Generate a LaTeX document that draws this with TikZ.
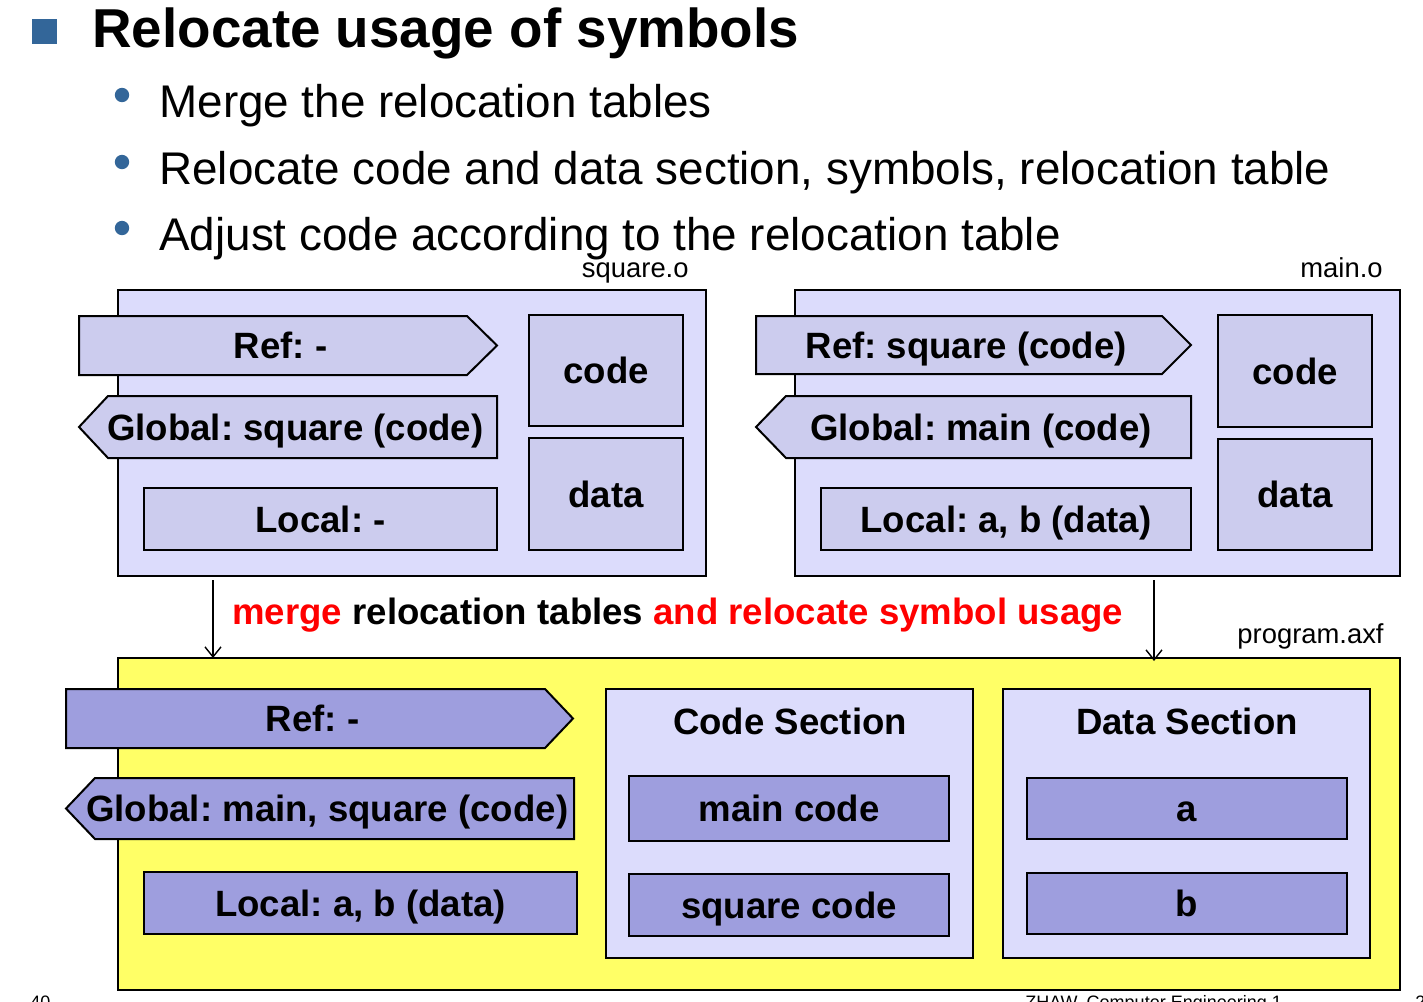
\documentclass[tikz,border=0pt]{standalone}
\usepackage{fontspec}
\setmainfont{Liberation Sans}
\usetikzlibrary{arrows.meta}
\definecolor{lav}{RGB}{220,220,252}
\definecolor{mid}{RGB}{204,204,238}
\definecolor{dark}{RGB}{158,158,222}
\definecolor{yel}{RGB}{255,255,102}
\definecolor{blu}{RGB}{51,102,153}
\definecolor{redtxt}{RGB}{255,0,0}
\frenchspacing
\newcommand\myfs[1]{\fontsize{#1}{#1}\selectfont}
% rectangle node: name, x1,y1,x2,y2, style, text
\newcommand\bx[7]{\node[rbox,#6,minimum width={(#4-#2)*0.5pt},minimum height={(#5-#3)*0.5pt}] (#1) at ({(#2+#4)/2},{(#3+#5)/2}) {#7};}
% right-pointing tag: name, x1, inner x, tip x, y1, y2, style, text
\newcommand\rtag[8]{\filldraw[tagline,#7] (#2,#5) -- (#3,#5) -- (#4,{(#5+#6)/2}) -- (#3,#6) -- (#2,#6) -- cycle;
  \node[lbl] (#1) at ({(#2+(#3+#4)/2)/2},{(#5+#6)/2}) {#8};}
% left-pointing tag: name, tip x, inner x, x2, y1, y2, style, text
\newcommand\ltag[8]{\filldraw[tagline,#7] (#2,{(#5+#6)/2}) -- (#3,#5) -- (#4,#5) -- (#4,#6) -- (#3,#6) -- cycle;
  \node[lbl] (#1) at ({((#2+#3)/2+#4)/2},{(#5+#6)/2}) {#8};}
\tikzset{
  rbox/.style={draw=black,line width=1pt,inner sep=0pt,outer sep=0pt,font=\bfseries\myfs{18.3pt},text height=13.1pt,text depth=0pt},
  tagline/.style={draw=black,line width=1pt},
  lbl/.style={inner sep=0pt,font=\bfseries\myfs{18.3pt},text height=13.1pt,text depth=0pt},
  small/.style={inner sep=0pt,font=\myfs{13.7pt},anchor=base east},
  bullettxt/.style={inner sep=0pt,font=\myfs{22.9pt},anchor=base west},
  foot/.style={inner sep=0pt,font=\myfs{9pt},anchor=base west},
  conn/.style={line width=0.7pt,-{Straight Barb[length=5pt,width=8pt]}}
}
\begin{document}
\begin{tikzpicture}[x=0.5pt,y=-0.5pt]
\useasboundingbox (0,0) rectangle (1423,1001);
% title
\fill[blu] (32,19) rectangle (57,44);
\node[inner sep=0pt,anchor=base west,font=\bfseries\myfs{27.4pt}] (title) at (92,47) {Relocate usage of symbols};
\foreach \yy/\tt [count=\i] in {95/Merge the relocation tables,162/{Relocate code and data section, symbols, relocation table},228/Adjust code according to the relocation table}{
  \fill[blu] (122,\yy) circle (3.6pt);
  \node[bullettxt] (b\i) at (159,{\yy+22}) {\tt};
}
% square.o
\bx{sq}{118}{290}{706}{576}{fill=lav}{}
\node[small] (sql) at (689,277) {square.o};
\rtag{sqref}{79}{467}{497}{316}{375}{fill=mid}{Ref: -}
\ltag{sqglob}{79}{108}{497}{396}{458}{fill=mid}{Global: square (code)}
\bx{sqloc}{144}{488}{497}{550}{fill=mid}{Local: -}
\bx{sqcode}{529}{315}{683}{426}{fill=mid}{code}
\bx{sqdata}{529}{438}{683}{550}{fill=mid}{data}
% main.o
\bx{mo}{795}{290}{1400}{576}{fill=lav}{}
\node[small] (mol) at (1383,277) {main.o};
\rtag{moref}{756}{1162}{1191}{316}{374}{fill=mid}{Ref: square (code)}
\ltag{moglob}{756}{786}{1191}{396}{458}{fill=mid}{Global: main (code)}
\bx{moloc}{821}{488}{1191}{550}{fill=mid}{Local: a, b (data)}
\bx{mocode}{1218}{315}{1372}{427}{fill=mid}{code}
\bx{modata}{1218}{439}{1372}{550}{fill=mid}{data}
% middle text
\node[inner sep=0pt,anchor=base west,font=\bfseries\myfs{18.3pt}] (mtxt) at (232,624) {\textcolor{redtxt}{merge} relocation tables \textcolor{redtxt}{and relocate symbol usage}};
% program.axf
\bx{pa}{118}{658}{1400}{990}{fill=yel}{}
\node[small] (pal) at (1384,643) {program.axf};
\rtag{paref}{66}{545}{573}{689}{748}{fill=dark}{Ref: -}
\ltag{paglob}{66}{95}{574}{778}{839}{fill=dark}{Global: main, square (code)}
\bx{paloc}{144}{872}{577}{934}{fill=dark}{Local: a, b (data)}
\bx{cs}{606}{689}{973}{958}{fill=lav}{}
\node[lbl,anchor=base] (cst) at (790,734) {Code Section};
\bx{mc}{629}{776}{949}{841}{fill=dark}{main code}
\bx{sc}{629}{874}{949}{936}{fill=dark}{square code}
\bx{ds}{1003}{689}{1370}{958}{fill=lav}{}
\node[lbl,anchor=base] (dst) at (1187,734) {Data Section};
\bx{da}{1027}{778}{1347}{839}{fill=dark}{a}
\bx{db}{1027}{873}{1347}{934}{fill=dark}{b}
% connectors
\coordinate (c1) at (213,580);
\coordinate (c2) at (1154,580);
\draw[conn] (c1) -- (c1 |- pa.north);
\draw[conn] (c2) -- ([yshift=-1.5pt]c2 |- pa.north);
% footer (cut at page edge)
\node[foot] (f1) at (30,1008) {40};
\node[foot] (f2) at (1025,1008) {ZHAW, Computer Engineering 1};
\node[foot] (f3) at (1415,1008) {2};
\end{tikzpicture}
\end{document}
